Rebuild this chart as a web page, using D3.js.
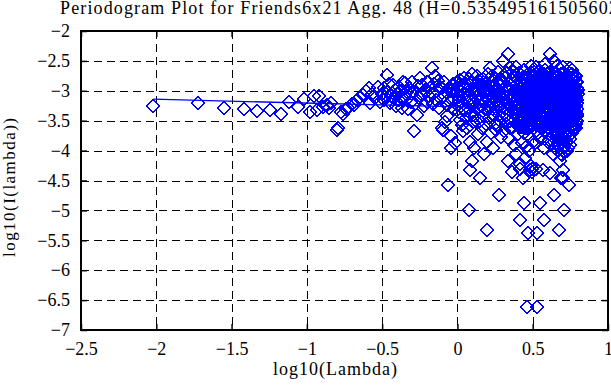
<!DOCTYPE html>
<html>
<head>
<meta charset="utf-8">
<script src="https://cdn.jsdelivr.net/npm/d3@7"></script>
<style>
  body { margin: 0; background: #fff; }
  svg { display: block; font-family: "Liberation Serif", "Times New Roman", serif; }
</style>
</head>
<body>
<svg id="chart"></svg>
<script>
const title = 'Periodogram Plot for Friends6x21 Agg. 48 (H=0.535495161505602)';
const xLabel = 'log10(Lambda)';
const yLabel = 'log10(I(lambda))';
const xTicks = [-2.5, -2, -1.5, -1, -0.5, 0, 0.5, 1];
const yTicks = [-7, -6.5, -6, -5.5, -5, -4.5, -4, -3.5, -3, -2.5, -2];

// least squares fit line (end points)
const fitX = [-2.02, 0.80];
const fitY = [-3.14, -3.32];

// periodogram points [log10(lambda), log10(I(lambda))]
const pointsLow = [
  [-2.02, -3.25], [-1.72, -3.20], [-1.55, -3.28], [-1.42, -3.30], [-1.33, -3.33],
  [-1.245, -3.32], [-1.175, -3.39], [-1.12, -3.18], [-1.06, -3.27],
  [-1.02, -3.14], [-0.98, -3.35], [-0.95, -3.08], [-0.935, -3.32], [-0.92, -3.09],
  [-0.89, -3.27], [-0.865, -3.24], [-0.85, -3.29], [-0.84, -3.21], [-0.80, -3.66],
  [-0.79, -3.62], [-0.775, -3.35], [-0.76, -3.38], [-0.74, -3.30], [-0.725, -3.29],
  [-0.70, -3.22], [-0.69, -3.24], [-0.67, -3.15], [-0.645, -3.10], [-0.625, -3.07],
  [-0.61, -3.00], [-0.59, -2.96], [-0.58, -3.21], [-0.565, -3.05], [-0.55, -3.12],
  [-0.526, -2.93], [-0.515, -3.18]
];

const pointsMid = [
  [-0.50, -3.05], [-0.49, -2.95], [-0.485, -3.15], [-0.48, -3.10], [-0.47, -2.74],
  [-0.46, -3.02], [-0.455, -2.88], [-0.445, -3.20], [-0.44, -3.08], [-0.43, -2.90],
  [-0.42, -3.12], [-0.415, -2.98], [-0.405, -3.25], [-0.40, -3.05], [-0.39, -2.93],
  [-0.385, -3.15], [-0.375, -3.00], [-0.37, -3.28], [-0.36, -2.85], [-0.36, -3.12],
  [-0.35, -2.87], [-0.345, -3.10], [-0.335, -3.02], [-0.33, -3.30], [-0.32, -2.95],
  [-0.31, -3.18], [-0.305, -3.05], [-0.30, -2.85], [-0.293, -3.01], [-0.29, -3.68],
  [-0.28, -3.22], [-0.27, -3.40], [-0.265, -2.92], [-0.255, -3.12], [-0.249, -2.79],
  [-0.24, -3.05], [-0.232, -2.90], [-0.225, -3.25], [-0.22, -3.05], [-0.215, -2.98],
  [-0.205, -3.18], [-0.20, -2.85], [-0.19, -3.08], [-0.183, -2.95], [-0.171, -2.62],
  [-0.165, -3.22], [-0.16, -3.05], [-0.158, -2.88], [-0.149, -2.76], [-0.14, -3.15],
  [-0.135, -3.00], [-0.128, -2.84], [-0.12, -3.28], [-0.113, -2.93], [-0.105, -3.63],
  [-0.10, -2.95], [-0.098, -3.10], [-0.094, -3.66], [-0.088, -2.86], [-0.083, -3.52],
  [-0.078, -3.02], [-0.072, -3.24], [-0.066, -3.42], [-0.06, -4.57], [-0.06, -3.15],
  [-0.055, -2.95], [-0.05, -3.01], [-0.045, -3.75], [-0.04, -3.96], [-0.035, -3.15],
  [-0.03, -2.88], [-0.025, -3.30], [-0.02, -3.00], [-0.018, -3.88], [-0.012, -3.05],
  [-0.005, -2.85], [0.0, -3.24]
];

const pointsRise = [
  [0.004, -2.95], [0.008, -3.35], [0.01, -3.15], [0.012, -3.10], [0.015, -2.82],
  [0.019, -3.48], [0.02, -2.88], [0.022, -3.02], [0.026, -3.25], [0.03, -2.90],
  [0.033, -3.58], [0.035, -3.30], [0.038, -3.68], [0.041, -3.12], [0.045, -2.78],
  [0.048, -3.32], [0.05, -2.95], [0.052, -3.05], [0.055, -3.45], [0.059, -2.88],
  [0.062, -3.18], [0.065, -3.12], [0.066, -3.62], [0.07, -2.97], [0.073, -3.28],
  [0.078, -5.00], [0.08, -3.08], [0.08, -2.80], [0.083, -3.85], [0.085, -4.32],
  [0.088, -2.85], [0.091, -3.38], [0.094, -4.18], [0.095, -3.25], [0.097, -3.15],
  [0.10, -2.72], [0.104, -3.52], [0.107, -3.00], [0.11, -3.95], [0.11, -3.00],
  [0.113, -3.22], [0.117, -2.92], [0.12, -3.42], [0.124, -3.10], [0.125, -3.50],
  [0.127, -2.76], [0.13, -3.30], [0.134, -3.72], [0.137, -2.98], [0.14, -3.18],
  [0.14, -2.90], [0.144, -2.84], [0.147, -3.50], [0.149, -4.46], [0.152, -3.05],
  [0.155, -3.26], [0.155, -3.15], [0.159, -2.90], [0.162, -3.62], [0.165, -3.12],
  [0.168, -2.80], [0.17, -2.95], [0.172, -3.40], [0.175, -3.02], [0.178, -4.05],
  [0.181, -3.20], [0.184, -2.88], [0.185, -3.30], [0.188, -3.55], [0.191, -3.08],
  [0.194, -3.85], [0.197, -2.95], [0.198, -5.33], [0.20, -3.00], [0.201, -3.32],
  [0.204, -2.72], [0.207, -3.15], [0.21, -3.45], [0.213, -2.98], [0.215, -3.25],
  [0.216, -2.62], [0.219, -3.25], [0.222, -3.70], [0.225, -3.05], [0.228, -2.85],
  [0.23, -2.75], [0.231, -3.38], [0.234, -3.12], [0.238, -3.96], [0.241, -2.92],
  [0.244, -3.22], [0.245, -3.40], [0.247, -3.55], [0.25, -2.78], [0.253, -3.02],
  [0.256, -3.30], [0.259, -3.65], [0.26, -3.10], [0.262, -2.95], [0.265, -3.15],
  [0.268, -2.68], [0.271, -3.57], [0.274, -3.08], [0.275, -2.82], [0.277, -3.40],
  [0.278, -4.74], [0.28, -2.88], [0.283, -3.25], [0.285, -3.50], [0.286, -3.00],
  [0.289, -3.78], [0.292, -2.80], [0.295, -3.35], [0.298, -3.10], [0.30, -3.15]
];

const pointsHigh = [
  [0.301, -2.85], [0.304, -3.20], [0.305, -2.51], [0.308, -3.45], [0.31, -3.02],
  [0.31, -3.38], [0.312, -3.68], [0.315, -2.78], [0.317, -3.30], [0.32, -3.10],
  [0.32, -2.70], [0.322, -2.92], [0.325, -3.55], [0.327, -3.18], [0.33, -2.70],
  [0.33, -3.20], [0.332, -3.40], [0.335, -3.00], [0.338, -2.39], [0.338, -4.18],
  [0.34, -3.25], [0.34, -2.95], [0.343, -3.80], [0.345, -2.88], [0.348, -3.12],
  [0.35, -3.50], [0.35, -3.62], [0.352, -2.62], [0.355, -3.35], [0.357, -3.05],
  [0.36, -4.35], [0.36, -3.10], [0.362, -2.82], [0.364, -3.62], [0.367, -3.20],
  [0.369, -2.95], [0.37, -2.68], [0.372, -3.45], [0.374, -3.08], [0.377, -2.75],
  [0.379, -3.90], [0.38, -3.40], [0.381, -3.28], [0.384, -3.00], [0.386, -2.60],
  [0.388, -3.55], [0.39, -4.05], [0.39, -3.00], [0.393, -3.15], [0.395, -2.88],
  [0.397, -3.38], [0.40, -3.72], [0.40, -2.80], [0.402, -2.98], [0.404, -3.22],
  [0.405, -3.30], [0.406, -2.70], [0.409, -3.48], [0.41, -3.60], [0.411, -3.10],
  [0.413, -4.22], [0.415, -5.16], [0.415, -4.30], [0.417, -2.85], [0.418, -3.12],
  [0.42, -3.30], [0.421, -3.05], [0.422, -3.60], [0.424, -3.02], [0.425, -3.45],
  [0.426, -2.78], [0.428, -3.88], [0.429, -2.95], [0.43, -3.18], [0.432, -3.42],
  [0.433, -3.25], [0.435, -2.92], [0.436, -3.60], [0.437, -4.46], [0.439, -3.08],
  [0.44, -2.88], [0.441, -3.70], [0.443, -3.15], [0.444, -4.87], [0.444, -2.65],
  [0.446, -3.28], [0.447, -3.40], [0.448, -3.52], [0.45, -2.98], [0.451, -2.78],
  [0.452, -4.12], [0.454, -3.15], [0.455, -3.50], [0.456, -2.82], [0.458, -3.62],
  [0.459, -3.00], [0.46, -3.38], [0.462, -3.92], [0.463, -3.28], [0.464, -6.62],
  [0.464, -3.05], [0.466, -5.37], [0.467, -2.92], [0.468, -2.72], [0.47, -3.48],
  [0.471, -3.62], [0.472, -3.22], [0.474, -4.00], [0.475, -3.12], [0.476, -2.90],
  [0.478, -3.75], [0.479, -2.82], [0.48, -3.32], [0.482, -4.33], [0.483, -3.42],
  [0.484, -3.10], [0.486, -2.58], [0.487, -3.02], [0.488, -3.58], [0.489, -3.30],
  [0.49, -4.25], [0.491, -3.00], [0.492, -2.70], [0.493, -4.30], [0.493, -4.36],
  [0.495, -3.42], [0.496, -3.18], [0.497, -2.85], [0.498, -3.55], [0.499, -3.85]
];

const pointsTop = [
  [0.501, -3.12], [0.502, -2.95], [0.503, -2.75], [0.504, -3.40], [0.505, -3.30],
  [0.506, -3.02], [0.507, -3.62], [0.508, -2.68], [0.509, -2.90], [0.51, -3.25],
  [0.511, -3.42], [0.512, -3.05], [0.513, -3.50], [0.514, -3.08], [0.515, -2.82],
  [0.516, -3.18], [0.517, -2.80], [0.518, -3.88], [0.519, -2.97], [0.52, -2.60],
  [0.52, -3.58], [0.521, -3.35], [0.522, -4.30], [0.523, -3.10], [0.524, -3.22],
  [0.525, -2.88], [0.526, -3.55], [0.527, -2.90], [0.528, -3.00], [0.529, -3.28],
  [0.53, -6.62], [0.53, -5.37], [0.53, -3.10], [0.531, -2.72], [0.532, -3.45],
  [0.533, -3.52], [0.534, -3.15], [0.535, -2.95], [0.536, -2.78], [0.537, -3.70],
  [0.538, -3.22], [0.539, -3.32], [0.54, -2.85], [0.541, -3.38], [0.542, -3.00],
  [0.543, -3.08], [0.544, -2.68], [0.545, -3.45], [0.546, -3.58], [0.547, -3.00],
  [0.548, -4.87], [0.548, -2.90], [0.549, -3.30], [0.55, -2.78], [0.551, -3.20],
  [0.552, -3.48], [0.553, -3.12], [0.554, -2.70], [0.555, -2.92], [0.556, -3.80],
  [0.557, -3.55], [0.558, -3.25], [0.559, -2.70], [0.56, -3.15], [0.561, -3.05],
  [0.562, -3.40], [0.563, -2.82], [0.564, -2.86], [0.565, -3.60], [0.566, -3.35],
  [0.567, -3.18], [0.568, -2.98], [0.569, -3.05], [0.57, -4.32], [0.571, -3.52],
  [0.572, -2.76], [0.572, -3.68], [0.574, -5.16], [0.574, -3.32], [0.575, -2.72],
  [0.576, -3.02], [0.576, -3.15], [0.577, -3.95], [0.578, -3.42], [0.579, -2.88],
  [0.58, -3.20], [0.58, -2.55], [0.581, -3.00], [0.582, -3.45], [0.583, -2.65],
  [0.584, -3.28], [0.585, -3.10], [0.586, -3.68], [0.587, -2.85], [0.588, -2.94],
  [0.589, -3.28], [0.59, -3.50], [0.591, -3.05], [0.592, -2.80], [0.593, -3.15],
  [0.594, -3.55], [0.595, -3.15], [0.596, -2.92], [0.596, -3.28], [0.597, -2.72],
  [0.598, -3.38], [0.599, -3.62], [0.60, -3.00], [0.601, -3.85], [0.602, -3.08],
  [0.603, -2.90], [0.603, -3.50], [0.604, -3.22], [0.605, -2.70], [0.606, -3.48],
  [0.607, -2.78], [0.608, -3.35], [0.609, -3.10], [0.61, -3.62], [0.611, -3.82],
  [0.612, -2.95], [0.613, -3.30], [0.613, -2.82], [0.614, -2.39], [0.614, -4.38],
  [0.615, -3.20], [0.616, -3.05], [0.616, -3.58], [0.617, -2.68], [0.618, -2.90],
  [0.619, -3.42], [0.62, -3.15], [0.621, -3.48], [0.622, -3.90], [0.623, -2.85],
  [0.623, -3.12], [0.624, -3.05], [0.625, -3.25], [0.626, -3.55], [0.627, -2.78],
  [0.628, -2.98], [0.629, -3.75], [0.63, -3.60], [0.631, -3.10], [0.632, -2.74],
  [0.633, -3.22], [0.633, -3.45], [0.634, -3.35], [0.635, -4.05], [0.636, -2.95],
  [0.636, -3.30], [0.637, -3.02], [0.638, -2.88], [0.639, -3.85], [0.64, -4.74],
  [0.64, -3.50], [0.64, -2.50], [0.641, -3.40], [0.642, -3.18], [0.643, -2.80],
  [0.643, -2.98], [0.644, -3.05], [0.645, -3.65], [0.646, -2.72], [0.647, -3.28],
  [0.648, -2.92], [0.649, -3.55], [0.65, -3.95], [0.651, -3.08], [0.652, -3.25],
  [0.653, -3.45], [0.653, -3.32], [0.654, -2.70], [0.655, -2.88], [0.656, -3.82],
  [0.656, -3.50], [0.657, -3.20], [0.658, -3.75], [0.659, -2.96], [0.66, -3.60],
  [0.66, -2.58], [0.661, -3.10], [0.662, -3.35], [0.663, -2.84], [0.663, -3.18],
  [0.664, -3.45], [0.665, -4.00], [0.666, -3.12], [0.667, -2.98], [0.668, -3.50],
  [0.669, -2.76], [0.67, -3.90], [0.671, -3.72], [0.672, -3.00], [0.673, -3.20],
  [0.673, -2.92], [0.674, -3.30], [0.675, -2.80], [0.676, -5.33], [0.676, -3.90],
  [0.676, -3.05], [0.677, -2.90], [0.678, -3.62], [0.679, -3.55], [0.68, -4.18],
  [0.68, -3.15], [0.681, -3.35], [0.682, -2.82], [0.683, -3.42], [0.683, -3.28],
  [0.684, -3.00], [0.685, -3.80], [0.686, -3.05], [0.687, -4.05], [0.688, -2.72],
  [0.689, -3.62], [0.69, -4.45], [0.69, -3.50], [0.691, -3.25], [0.692, -2.95],
  [0.693, -3.15], [0.693, -3.62], [0.694, -4.08], [0.695, -3.38], [0.696, -2.90],
  [0.696, -3.22], [0.697, -3.10], [0.698, -2.86], [0.699, -3.82], [0.70, -4.46],
  [0.70, -4.32], [0.70, -3.70], [0.70, -2.60], [0.701, -3.20], [0.702, -3.42],
  [0.703, -2.98], [0.703, -3.12], [0.704, -3.52], [0.705, -3.05], [0.706, -3.92],
  [0.707, -2.78], [0.708, -2.70], [0.709, -3.30], [0.71, -5.00], [0.71, -3.08],
  [0.711, -3.95], [0.712, -3.65], [0.713, -2.90], [0.713, -2.85], [0.714, -3.25],
  [0.715, -3.42], [0.716, -4.02], [0.716, -3.38], [0.717, -3.60], [0.718, -3.15],
  [0.719, -2.80], [0.72, -2.95], [0.721, -3.58], [0.722, -3.00], [0.723, -3.35],
  [0.723, -3.70], [0.724, -3.85], [0.725, -3.25], [0.726, -4.00], [0.727, -2.74],
  [0.728, -3.48], [0.729, -3.00], [0.73, -3.10], [0.731, -3.72], [0.732, -3.52],
  [0.733, -2.92], [0.733, -3.15], [0.734, -3.35], [0.735, -2.82], [0.736, -3.05],
  [0.736, -3.28], [0.737, -3.95], [0.738, -3.75], [0.739, -2.85], [0.74, -4.58],
  [0.74, -3.55], [0.741, -3.10], [0.742, -3.20], [0.743, -2.70], [0.743, -2.98],
  [0.744, -3.45], [0.745, -3.40], [0.746, -3.80], [0.747, -2.62], [0.747, -3.90],
  [0.748, -3.00], [0.75, -3.28], [0.75, -2.90], [0.751, -3.62], [0.752, -3.25],
  [0.753, -2.88], [0.753, -3.42], [0.754, -3.12], [0.755, -3.60], [0.756, -3.50],
  [0.756, -2.85], [0.757, -2.78], [0.758, -3.00], [0.759, -3.35], [0.76, -3.05],
  [0.76, -2.65], [0.761, -3.40], [0.762, -3.70], [0.763, -2.95], [0.763, -3.10],
  [0.764, -2.72], [0.765, -3.22], [0.766, -3.45], [0.767, -3.55], [0.768, -2.84],
  [0.769, -3.10], [0.77, -3.20], [0.771, -3.58], [0.772, -2.90], [0.773, -2.95],
  [0.773, -3.62], [0.774, -3.30], [0.775, -3.00], [0.776, -3.45], [0.777, -3.65],
  [0.778, -2.80], [0.779, -3.10], [0.78, -3.18], [0.781, -3.42], [0.782, -2.75],
  [0.783, -2.92], [0.783, -3.25], [0.784, -3.08], [0.785, -3.35], [0.786, -3.55],
  [0.787, -3.25], [0.788, -3.00], [0.789, -2.86], [0.789, -3.12], [0.79, -2.76],
  [0.79, -3.63], [0.79, -3.50], [0.791, -3.38], [0.792, -3.02], [0.793, -3.50],
  [0.793, -2.85], [0.794, -3.15], [0.795, -2.95], [0.795, -3.20], [0.796, -3.30],
  [0.797, -3.20], [0.797, -3.42], [0.798, -3.05], [0.799, -2.98]
];

const margin = { top: 31, right: 3, bottom: 55, left: 81 };
const outerWidth = 611;
const outerHeight = 385;
const width = outerWidth - margin.left - margin.right;
const height = outerHeight - margin.top - margin.bottom;
const fontFamily = '"Liberation Serif", "Times New Roman", serif';

const svg = d3.select('#chart')
  .attr('width', outerWidth)
  .attr('height', outerHeight);

const surface = svg.append('g')
  .attr('transform', `translate(${margin.left}, ${margin.top})`);

const x = d3.scaleLinear().domain([-2.5, 1]).range([0, width]);
const y = d3.scaleLinear().domain([-7, -2]).range([height, 0]);
const fmt = d3.format('~g');

// dashed grid
surface.append('g')
  .selectAll('line')
  .data(xTicks.slice(1, -1))
  .join('line')
  .attr('x1', d => Math.round(x(d)) + 0.5)
  .attr('x2', d => Math.round(x(d)) + 0.5)
  .attr('y1', 0)
  .attr('y2', height)
  .attr('stroke', '#000')
  .attr('stroke-dasharray', '8,5');

surface.append('g')
  .selectAll('line')
  .data(yTicks.slice(1, -1))
  .join('line')
  .attr('y1', d => Math.round(y(d)) + 0.5)
  .attr('y2', d => Math.round(y(d)) + 0.5)
  .attr('x1', 0)
  .attr('x2', width)
  .attr('stroke', '#000')
  .attr('stroke-dasharray', '8,5');

// points
const points = pointsLow.concat(pointsMid, pointsRise, pointsHigh, pointsTop);
const r = 6.5;
const diamond = `M0,${-r}L${r},0L0,${r}L${-r},0Z`;

surface.append('g')
  .selectAll('path')
  .data(points)
  .join('path')
  .attr('d', diamond)
  .attr('transform', d => `translate(${Math.round(x(d[0]))}, ${Math.round(y(d[1]))})`)
  .attr('fill', 'none')
  .attr('stroke', '#0000ff')
  .attr('stroke-width', 1)
  .attr('shape-rendering', 'crispEdges');

// fit line
const fitLine = d3.line()
  .x(d => x(d[0]))
  .y(d => y(d[1]));

surface.append('path')
  .datum(fitX.map((v, i) => [v, fitY[i]]))
  .attr('d', fitLine)
  .attr('fill', 'none')
  .attr('stroke', '#0000ff')
  .attr('stroke-width', 1.3);

// axes with inward ticks on all four sides
const tickLen = 6;
const styleAxis = g => {
  g.attr('font-family', fontFamily).attr('font-size', 18);
  g.select('.domain').remove();
  g.selectAll('.tick line').attr('stroke-width', 1.5);
  g.selectAll('.tick text').attr('fill', '#000');
};

surface.append('g')
  .attr('transform', `translate(0, ${height})`)
  .call(d3.axisBottom(x).tickValues(xTicks).tickFormat(fmt).tickSizeInner(-tickLen).tickSizeOuter(0).tickPadding(12))
  .call(styleAxis);

surface.append('g')
  .call(d3.axisTop(x).tickValues(xTicks).tickFormat('').tickSizeInner(-tickLen).tickSizeOuter(0))
  .call(styleAxis);

surface.append('g')
  .call(d3.axisLeft(y).tickValues(yTicks).tickFormat(fmt).tickSizeInner(-tickLen).tickSizeOuter(0).tickPadding(11))
  .call(styleAxis);

surface.append('g')
  .attr('transform', `translate(${width}, 0)`)
  .call(d3.axisRight(y).tickValues(yTicks).tickFormat('').tickSizeInner(-tickLen).tickSizeOuter(0))
  .call(styleAxis);

// box
surface.append('rect')
  .attr('x', 0)
  .attr('y', 0)
  .attr('width', width)
  .attr('height', height)
  .attr('fill', 'none')
  .attr('stroke', '#000')
  .attr('stroke-width', 2);

// labels
svg.append('text')
  .attr('x', 60)
  .attr('y', 14)
  .attr('font-family', fontFamily)
  .attr('font-size', 18)
  .attr('textLength', 565)
  .text(title);

svg.append('text')
  .attr('x', 273)
  .attr('y', 375)
  .attr('font-family', fontFamily)
  .attr('font-size', 18)
  .attr('textLength', 124)
  .text(xLabel);

svg.append('text')
  .attr('transform', 'translate(15, 257) rotate(-90)')
  .attr('font-family', fontFamily)
  .attr('font-size', 17)
  .attr('textLength', 139)
  .text(yLabel);
</script>
</body>
</html>
